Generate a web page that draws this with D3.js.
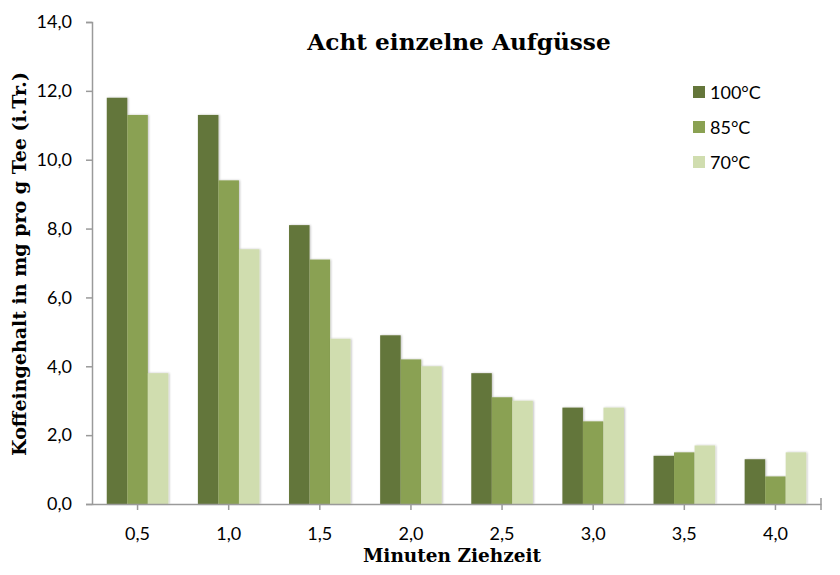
<!DOCTYPE html>
<html><head><meta charset="utf-8">
<script src="https://cdn.jsdelivr.net/npm/d3@7"></script>
<style>body{margin:0;background:#fff}</style>
</head><body>
<svg id="c" width="840" height="575"></svg>
<script>
const categories = ["0,5","1,0","1,5","2,0","2,5","3,0","3,5","4,0"];
const seriesNames = ["100°C","85°C","70°C"];
const s100 = [11.8, 11.3, 8.1, 4.9, 3.8, 2.8, 1.4, 1.3];
const s85  = [11.3, 9.4, 7.1, 4.2, 3.1, 2.4, 1.5, 0.8];
const s70  = [3.8, 7.4, 4.8, 4.0, 3.0, 2.8, 1.7, 1.5];
const yTicks = [0,2,4,6,8,10,12,14];
const colors = ["#64763a","#8aa152","#d0ddaf"];
const series = [s100, s85, s70];

const svg = d3.select("#c");
const pLeft = 92, pRight = 821, pTop = 22, pBottom = 504;
const x = d3.scaleBand().domain(categories).range([pLeft, pRight]).paddingInner(0).paddingOuter(0);
const inner = d3.scaleBand().domain(d3.range(3)).range([0, x.bandwidth()]).paddingInner(0).paddingOuter(0.72);
const y = d3.scaleLinear().domain([0,14]).range([pBottom, pTop]);

const defs = svg.append("defs");
const f = defs.append("filter").attr("id","sh").attr("x","-20%").attr("y","-5%").attr("width","150%").attr("height","110%");
f.append("feGaussianBlur").attr("in","SourceAlpha").attr("stdDeviation",1.2).attr("result","b");
f.append("feOffset").attr("in","b").attr("dx",1.2).attr("dy",0).attr("result","o");
f.append("feComponentTransfer").attr("in","o").attr("result","o2").append("feFuncA").attr("type","linear").attr("slope",0.25);
const mg = f.append("feMerge"); mg.append("feMergeNode").attr("in","o2"); mg.append("feMergeNode").attr("in","SourceGraphic");

const g = svg.append("g");
categories.forEach((c,i)=>{
  series.forEach((s,k)=>{
    g.append("rect")
      .attr("x", x(c)+inner(k))
      .attr("y", y(s[i]))
      .attr("width", inner.bandwidth())
      .attr("height", y(0)-y(s[i]))
      .attr("fill", colors[k])
      .attr("filter","url(#sh)");
  });
});

const axisColor = "#9a9a9a";
const ya = svg.append("g").attr("transform",`translate(${pLeft},0)`)
  .call(d3.axisLeft(y).tickValues(yTicks).tickSize(6).tickPadding(14).tickFormat(d=>d3.format(".1f")(d).replace(".",",")));
ya.select(".domain").attr("stroke",axisColor).attr("stroke-width",1.5);
ya.selectAll(".tick line").attr("stroke",axisColor).attr("stroke-width",1.5);
ya.selectAll(".tick text").attr("font-family","Lato, 'Open Sans', sans-serif").attr("font-size",18).attr("fill","#000");

const xa = svg.append("g").attr("transform",`translate(0,${pBottom})`)
  .call(d3.axisBottom(x).tickSize(6).tickSizeOuter(0).tickPadding(17));
xa.select(".domain").attr("stroke",axisColor).attr("stroke-width",1.5);
xa.selectAll(".tick line").attr("stroke",axisColor).attr("stroke-width",1.5);
xa.selectAll(".tick text").attr("font-family","Lato, 'Open Sans', sans-serif").attr("font-size",18).attr("fill","#000");
xa.append("line").attr("x1",pRight).attr("x2",pRight).attr("y1",-6).attr("y2",6).attr("stroke",axisColor).attr("stroke-width",1.5);

svg.append("text").attr("x",459).attr("y",50).attr("text-anchor","middle")
  .attr("font-family","'DejaVu Serif', serif").attr("font-weight","bold").attr("font-size",23.2)
  .text("Acht einzelne Aufgüsse");
svg.append("text").attr("x",452).attr("y",562).attr("text-anchor","middle")
  .attr("font-family","'DejaVu Serif', serif").attr("font-weight","bold").attr("font-size",18.5)
  .text("Minuten Ziehzeit");
svg.append("text").attr("transform","translate(26,264) rotate(-90)").attr("text-anchor","middle")
  .attr("font-family","'DejaVu Serif', serif").attr("font-weight","bold").attr("font-size",19)
  .text("Koffeingehalt in mg pro g Tee (i.Tr.)");

const lg = svg.append("g");
seriesNames.forEach((n,k)=>{
  const yy = 92 + k*35;
  lg.append("rect").attr("x",693).attr("y",yy-6).attr("width",12).attr("height",12).attr("fill",colors[k]);
  lg.append("text").attr("x",710).attr("y",yy+7).attr("font-family","Lato, 'Open Sans', sans-serif").attr("font-size",18).text(n);
});
</script>
</body></html>
